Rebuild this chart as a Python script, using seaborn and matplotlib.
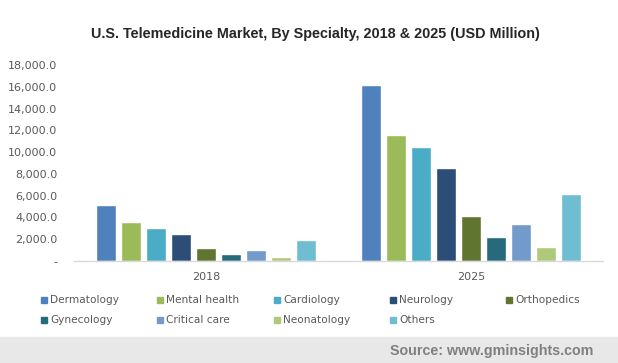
import pandas as pd
import matplotlib.pyplot as plt
import matplotlib.patches as mpatches
import seaborn as sns

# Data (USD Million)
years = ["2018", "2025"]
specialties = ["Dermatology", "Mental health", "Cardiology", "Neurology", "Orthopedics",
               "Gynecology", "Critical care", "Neonatology", "Others"]
values_2018 = [5100, 3600, 3050, 2500, 1200, 650, 1050, 380, 1950]
values_2025 = [16150, 11550, 10450, 8550, 4150, 2200, 3400, 1300, 6150]
colors = ["#4F81BD", "#9BBB59", "#4BACC6", "#2C4D75", "#5F7530",
          "#276A7C", "#729ACA", "#AFC97A", "#6FBDD1"]
y_ticks = [0, 2000, 4000, 6000, 8000, 10000, 12000, 14000, 16000, 18000]

df = pd.DataFrame({
    "year": [years[0]] * len(specialties) + [years[1]] * len(specialties),
    "specialty": specialties * 2,
    "value": values_2018 + values_2025,
})

sns.set_style("white")
plt.rcParams["font.family"] = ["DejaVu Sans"]

W, H = 618, 363
fig = plt.figure(figsize=(W / 100, H / 100), dpi=100)
ax = fig.add_axes([74 / W, 1 - 261 / H, 529 / W, 196 / H])

sns.barplot(data=df, x="year", y="value", hue="specialty", hue_order=specialties,
            palette=colors, width=0.85, gap=0.2, saturation=1, ax=ax, legend=False)

ax.set_ylim(0, 18000)
ax.set_yticks(y_ticks)
ax.set_yticklabels(["-" if v == 0 else f"{v:,.1f}" for v in y_ticks])
ax.set_xlabel("")
ax.set_ylabel("")
ax.tick_params(axis="both", length=0, labelsize=8, colors="#595959")
ax.tick_params(axis="y", pad=12)
ax.tick_params(axis="x", pad=8)
for side in ["top", "right", "left"]:
    ax.spines[side].set_visible(False)
ax.spines["bottom"].set_color("#D9D9D9")
ax.spines["bottom"].set_linewidth(1.0)

fig.text(315 / W, 1 - 34 / H, "U.S. Telemedicine Market, By Specialty, 2018 & 2025 (USD Million)",
         ha="center", va="center", fontsize=10.4, fontweight="bold", color="#262626",
         family="Liberation Sans")

# Legend: two rows of five, fixed column spacing like the original
col_x = [41, 157, 274, 390, 506]
row_y = [300, 320]
for i, (name, c) in enumerate(zip(specialties, colors)):
    x = col_x[i % 5]
    y = row_y[i // 5]
    fig.patches.append(mpatches.Rectangle((x / W, 1 - (y + 3) / H), 6 / W, 6 / H,
                                          transform=fig.transFigure, color=c))
    fig.text((x + 9) / W, 1 - y / H, name, ha="left", va="center", fontsize=7.6,
             color="#595959")

# Source band
fig.patches.append(mpatches.Rectangle((0, 0), 1, 1 - 337 / H, transform=fig.transFigure,
                                      color="#E8E8E8", zorder=0))
fig.text(593 / W, 1 - 351 / H, "Source: www.gminsights.com", ha="right", va="center",
         fontsize=10.3, fontweight="bold", color="#808080", family="Liberation Sans")

fig.savefig("out.png", dpi=100)
